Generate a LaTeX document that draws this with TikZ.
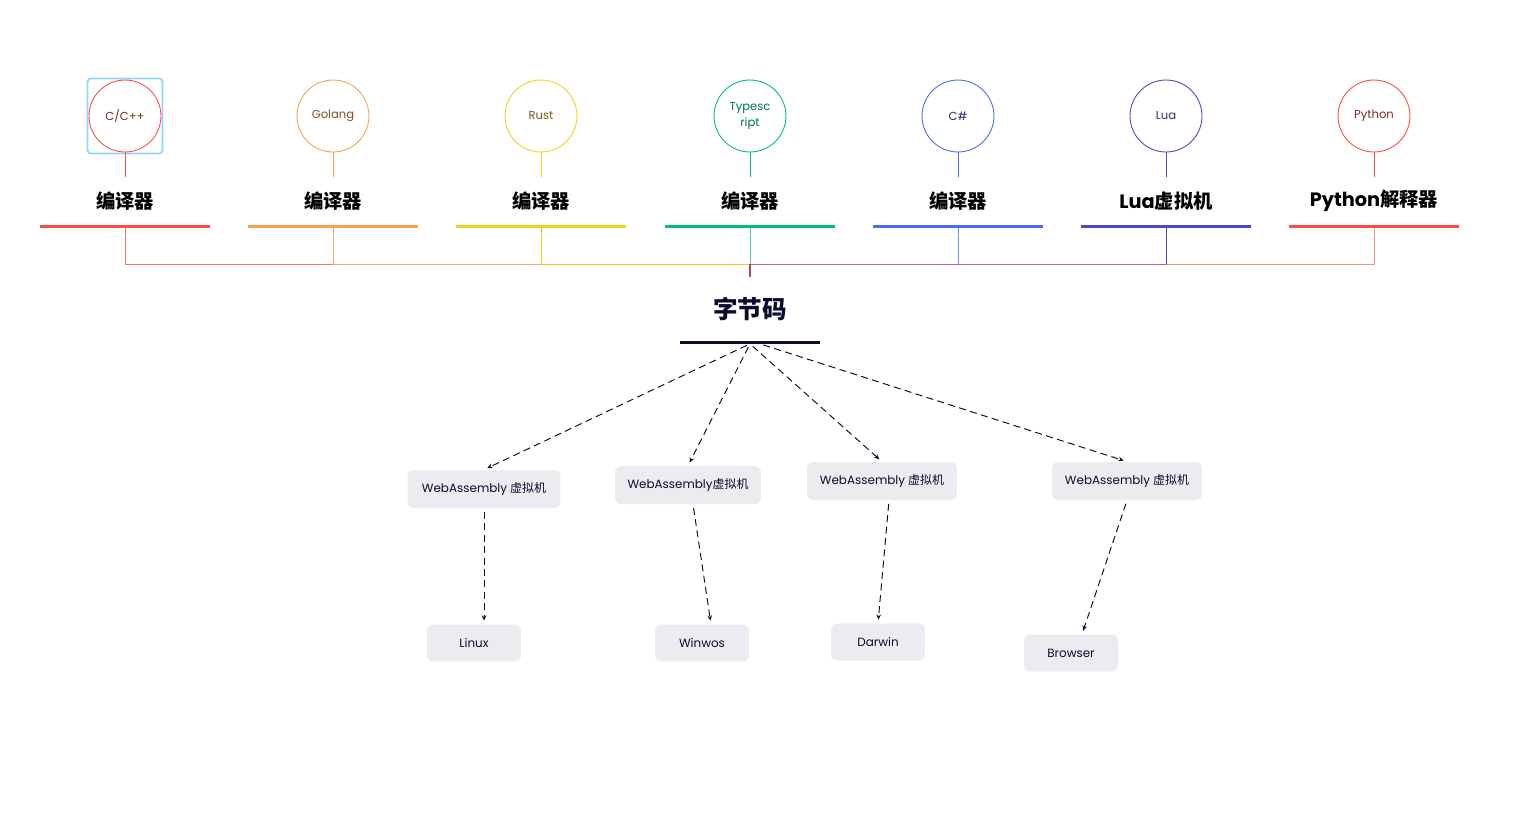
\documentclass[tikz,border=0pt]{standalone}
\usepackage{fontspec}
\setmainfont{Poppins}
\newfontfamily\cjk{Noto Sans CJK SC}
\usetikzlibrary{positioning,arrows.meta}

\definecolor{langred}{HTML}{FF4A43}
\definecolor{langorange}{HTML}{FF9F4A}
\definecolor{langyellow}{HTML}{F5D11B}
\definecolor{langgreen}{HTML}{00BD7E}
\definecolor{langblue}{HTML}{4A6CF7}
\definecolor{langindigo}{HTML}{4B4BC4}
\definecolor{navy}{HTML}{0B0B2E}
\definecolor{boxgrey}{HTML}{ECEBEF}
\definecolor{selblue}{HTML}{8ED6FF}
\definecolor{junction}{HTML}{B8405E}

\tikzset{
	lang/.style={circle, draw=#1, line width=0.5pt, minimum size=1.44cm, inner sep=0pt, align=center, font=\fontsize{6.6}{9.6}\selectfont},
	tool/.style={minimum height=0.96cm, inner sep=0pt, font=\bfseries\fontsize{11}{12}\selectfont},
	bar/.style={fill=#1, minimum width=3.4cm, minimum height=0.06cm, inner sep=0pt},
	wasm/.style={fill=boxgrey, rounded corners=3.5pt, minimum height=0.76cm, inner sep=0pt, text=navy, font=\fontsize{6.8}{8}\selectfont},
	flow/.style={draw=navy, line width=0.55pt, dash pattern=on 4pt off 2.5pt, shorten <=2pt, shorten >=2pt, -{Stealth[length=3pt,width=2.6pt]}},
}

\begin{document}
\begin{tikzpicture}[x=0.02cm, y=-0.02cm]
	\useasboundingbox (0,0) rectangle (1522,812);
	% languages
	\node [draw=selblue, line width=1pt, rounded corners=2pt, minimum size=1.5cm] (sel) at (125,116) {};
	\node [lang=langred, text=langred!50!black] (c1) at (125,116) {C/C++};
	\node [lang=langorange, text=langorange!50!black] (c2) at (333,116) {Golang};
	\node [lang=langyellow, text=langyellow!45!black] (c3) at (541,116) {Rust};
	\node [lang=langgreen, text=langgreen!60!black] (c4) at (750,116) {Typesc\\ript};
	\node [lang=langblue, text=langblue!40!black] (c5) at (958,116) {C\#};
	\node [lang=langindigo, text=langindigo!60!black] (c6) at (1166,116) {Lua};
	\node [lang=langred, text=langred!50!black] (c7) at (1374,116) {Python};
	%
	\node [tool] (l1) at (125,201) {\cjk 编译器};
	\node [tool] (l2) at (333,201) {\cjk 编译器};
	\node [tool] (l3) at (541,201) {\cjk 编译器};
	\node [tool] (l4) at (750,201) {\cjk 编译器};
	\node [tool] (l5) at (958,201) {\cjk 编译器};
	\node [tool] (l6) at (1166,201) {Lua{\cjk 虚拟机}};
	\node [tool] (l7) at (1374,201) {Python{\cjk 解释器}};
	%
	\node [bar=langred] (b1) at (125,226) {};
	\node [bar=langorange] (b2) at (333,226) {};
	\node [bar=langyellow] (b3) at (541,226) {};
	\node [bar=langgreen] (b4) at (750,226) {};
	\node [bar=langblue] (b5) at (958,226) {};
	\node [bar=langindigo] (b6) at (1166,226) {};
	\node [bar=langred] (b7) at (1374,226) {};
	%
	\draw [langred, line width=0.5pt] (c1) -- (l1);
	\draw [langorange, line width=0.5pt] (c2) -- (l2);
	\draw [langyellow, line width=0.5pt] (c3) -- (l3);
	\draw [langgreen, line width=0.5pt] (c4) -- (l4);
	\draw [langblue, line width=0.5pt] (c5) -- (l5);
	\draw [langindigo, line width=0.5pt] (c6) -- (l6);
	\draw [langred, line width=0.5pt] (c7) -- (l7);
	% bytecode
	\coordinate (jn) at (750,264);
	\node [minimum height=1.28cm, inner sep=0pt, text=navy, font=\cjk\bfseries\fontsize{14}{16}\selectfont] (bc) at (750,309) {字节码};
	\node [bar=navy, minimum width=2.8cm] (bb) at (750,342) {};
	%
	\draw [langblue!80, line width=0.5pt] (b5) |- (jn);
	\draw [langindigo, line width=0.5pt] (b6) |- (jn);
	\draw [langred!85, opacity=0.75, line width=0.5pt] (b7) |- (jn);
	\draw [langred!80, line width=0.5pt] (b1) |- (jn);
	\draw [langorange!90, line width=0.5pt] (b2) |- (jn);
	\draw [langyellow!90!orange, line width=0.5pt] (b3) |- (jn);
	\draw [langgreen!70, line width=0.5pt] (b4) -- (jn);
	\draw [junction, line width=0.6pt] (jn) -- (bc);
	% runtimes
	\node [wasm, minimum width=3.06cm] (w1) at (484,489) {WebAssembly {\cjk 虚拟机}};
	\node [wasm, minimum width=2.92cm] (w2) at (688,485) {WebAssembly{\cjk 虚拟机}};
	\node [wasm, minimum width=3.0cm] (w3) at (882,481) {WebAssembly {\cjk 虚拟机}};
	\node [wasm, minimum width=3.0cm] (w4) at (1127,481) {WebAssembly {\cjk 虚拟机}};
	%
	\node [wasm, minimum width=1.88cm, minimum height=0.74cm] (os1) at (474,643) {Linux};
	\node [wasm, minimum width=1.88cm, minimum height=0.74cm] (os2) at (702,643) {Winwos};
	\node [wasm, minimum width=1.88cm, minimum height=0.74cm] (os3) at (878,642) {Darwin};
	\node [wasm, minimum width=1.88cm, minimum height=0.74cm] (os4) at (1071,653) {Browser};
	%
	\draw [flow] (bb.south) -- (w1.north);
	\draw [flow] (bb.south) -- (w2.north);
	\draw [flow] (bb.south) -- (w3.north);
	\draw [flow] ([xshift=0.2cm]bb.south) -- (w4.north);
	\draw [flow] (w1.south) -- (w1.south |- os1.north);
	\draw [flow] ([xshift=0.1cm]w2.south) -- ([xshift=0.18cm]os2.north);
	\draw [flow] ([xshift=0.14cm]w3.south) -- (os3.north);
	\draw [flow] (w4.south) -- ([xshift=0.22cm]os4.north);
\end{tikzpicture}
\end{document}
